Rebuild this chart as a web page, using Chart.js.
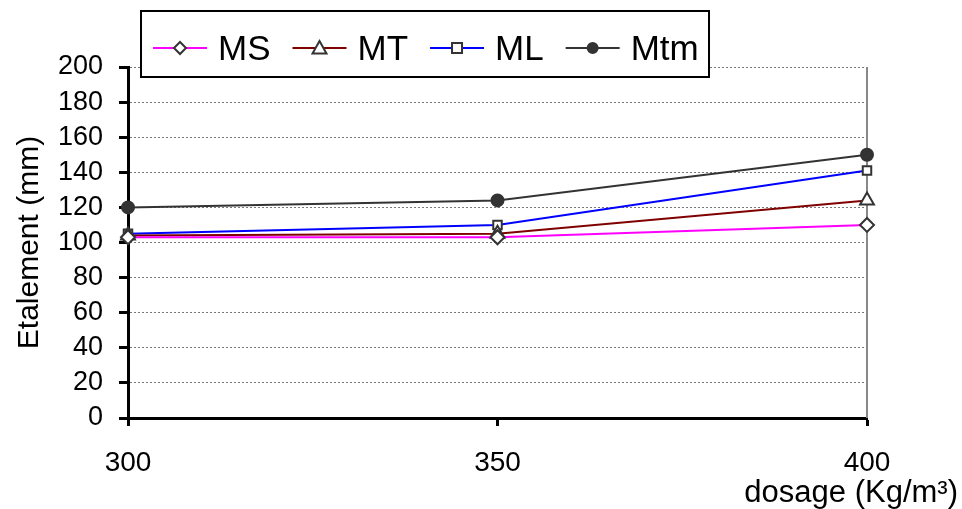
<!DOCTYPE html>
<html>
<head>
<meta charset="utf-8">
<script src="https://cdn.jsdelivr.net/npm/chart.js"></script>
<style>
  html, body { margin: 0; padding: 0; background: #fff; }
</style>
</head>
<body>
<canvas id="myChart" width="962" height="509"></canvas>
<script>
const dosages = ["300", "350", "400"];
const msValues = [103, 103, 110];
const mtValues = [104, 105, 124];
const mlValues = [105, 110, 141];
const mtmValues = [120, 124, 150];
const yMin = 0, yMax = 200, yStep = 20;

const FONT = "'Liberation Sans', Arial, sans-serif";

const series = [
  { label: "MS", data: msValues, color: "#ff00ff", style: "rectRot", radius: 7, fill: "#ffffff" },
  { label: "MT", data: mtValues, color: "#800000", style: "triangle", radius: 8, fill: "#ffffff" },
  { label: "ML", data: mlValues, color: "#0000ff", style: "rect", radius: 6, fill: "#ffffff" },
  { label: "Mtm", data: mtmValues, color: "#333333", style: "circle", radius: 6, fill: "#333333" },
];

function drawMarker(ctx, style, x, y, r) {
  if (style === "circle") {
    ctx.arc(x, y, r, 0, Math.PI * 2);
  } else if (style === "rect") {
    ctx.rect(x - r, y - r, 2 * r, 2 * r);
  } else if (style === "rectRot") {
    ctx.moveTo(x, y - r); ctx.lineTo(x + r, y); ctx.lineTo(x, y + r); ctx.lineTo(x - r, y); ctx.closePath();
  } else {
    ctx.moveTo(x, y - r); ctx.lineTo(x + r, y + r * 0.8); ctx.lineTo(x - r, y + r * 0.8); ctx.closePath();
  }
}

// legend box, right border of the plot, x title
const decor = {
  id: "decor",
  beforeDatasetsDraw(chart) {
    const { ctx, chartArea } = chart;
    ctx.save();
    ctx.strokeStyle = "#888";
    ctx.lineWidth = 2;
    ctx.beginPath();
    ctx.moveTo(chartArea.right, chartArea.top);
    ctx.lineTo(chartArea.right, chartArea.bottom);
    ctx.stroke();
    ctx.restore();
  },
  afterDraw(chart) {
    const { ctx } = chart;
    ctx.save();
    ctx.fillStyle = "#fff";
    ctx.fillRect(141, 11, 568, 66);
    ctx.strokeStyle = "#000";
    ctx.lineWidth = 2;
    ctx.strokeRect(141, 11, 568, 66);
    ctx.font = "35px " + FONT;
    let x = 153;
    const y = 48;
    series.forEach((s) => {
      ctx.strokeStyle = s.color;
      ctx.lineWidth = 2;
      ctx.beginPath();
      ctx.moveTo(x, y);
      ctx.lineTo(x + 54, y);
      ctx.stroke();
      ctx.fillStyle = s.fill;
      ctx.strokeStyle = "#333";
      ctx.lineWidth = 2;
      ctx.beginPath();
      drawMarker(ctx, s.style, x + 27, y, s.radius - 1);
      ctx.fill();
      ctx.stroke();
      ctx.fillStyle = "#000";
      ctx.textBaseline = "alphabetic";
      ctx.fillText(s.label, x + 65, 60);
      x += 65 + ctx.measureText(s.label).width + 22;
    });
    ctx.font = "31px " + FONT;
    ctx.textAlign = "right";
    ctx.textBaseline = "middle";
    ctx.fillStyle = "#000";
    ctx.fillText("dosage (Kg/m³)", 958, 493);
    ctx.restore();
  },
};

new Chart(document.getElementById("myChart"), {
  type: "line",
  data: {
    labels: dosages,
    datasets: series.map((s) => ({
      label: s.label,
      data: s.data,
      borderColor: s.color,
      borderWidth: 2,
      pointStyle: s.style,
      pointRadius: s.radius,
      pointBackgroundColor: s.fill,
      pointBorderColor: "#333333",
      pointBorderWidth: 2,
      tension: 0,
      clip: false,
    })),
  },
  options: {
    responsive: false,
    animation: false,
    layout: { padding: { top: 67, right: 95, left: 0, bottom: 0 } },
    plugins: { legend: { display: false }, tooltip: { enabled: false } },
    scales: {
      x: {
        offset: false,
        grid: { drawOnChartArea: false, drawTicks: true, tickLength: 8, tickColor: "#000", tickWidth: 3 },
        border: { color: "#000", width: 3 },
        ticks: { color: "#000", font: { family: FONT, size: 28 }, padding: 20, maxRotation: 0 },
        afterFit(scale) { scale.height = 91; },
      },
      y: {
        min: yMin,
        max: yMax,
        ticks: { stepSize: yStep, autoSkip: false, color: "#000", font: { family: FONT, size: 27 }, padding: 16 },
        grid: { color: "#777", lineWidth: 1, tickLength: 9, tickColor: "#000", tickWidth: 3 },
        border: { color: "#000", width: 3, dash: [2, 2] },
        title: { display: true, text: "Etalement (mm)", color: "#000", font: { family: FONT, size: 30 }, padding: { top: 12, bottom: 0 } },
        afterFit(scale) { scale.width = 128; },
      },
    },
  },
  plugins: [decor],
});
</script>
</body>
</html>
